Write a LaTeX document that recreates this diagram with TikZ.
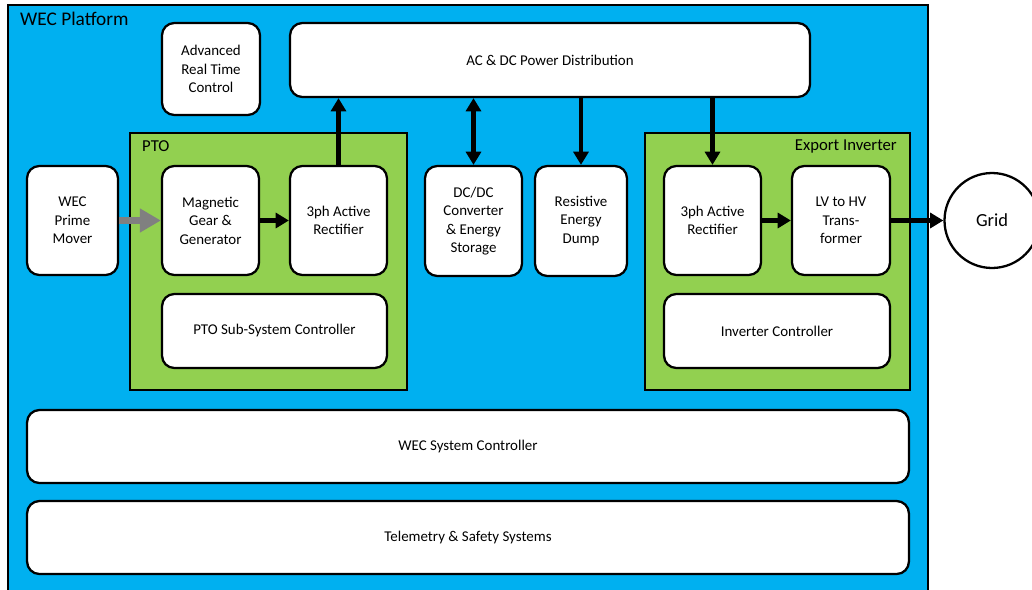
\documentclass[tikz,border=0pt]{standalone}
\usepackage{fontspec}
\setmainfont{Carlito}
\usetikzlibrary{arrows.meta}
\definecolor{PlatformClr}{HTML}{00B0F0}
\definecolor{SubSysClr}{HTML}{92D050}
\definecolor{ShaftClr}{HTML}{808080}

\begin{document}
\begin{tikzpicture}[x=0.02cm,y=-0.02cm,
  blk/.style={draw,line width=1.3pt,fill=white,rounded corners=7pt,align=center,
    inner sep=0pt,font=\fontsize{8.5}{10.5}\selectfont},
  grp/.style={draw,line width=1.3pt},
  pwr/.style={line width=2.3pt,-{Triangle[length=7.5pt,width=8.5pt]}},
  mech/.style={line width=3.6pt,color=ShaftClr,-{Triangle[length=12pt,width=13pt]}}]
\useasboundingbox (0,0) rectangle (1032,589);

% platform and sub-system frames
\draw[grp,fill=PlatformClr] (8,600) -- (8,5) -- (928,5) -- (928,600);
\node[anchor=west,font=\fontsize{11}{13}\selectfont] (plat) at (14,19) {WEC Platform};
\draw[grp,fill=SubSysClr] (130,133) rectangle (407,390);
\node[anchor=west,font=\fontsize{9.5}{11}\selectfont] (pto) at (136,146) {PTO};
\draw[grp,fill=SubSysClr] (645,133) rectangle (910,390);
\node[anchor=east,font=\fontsize{9.5}{11}\selectfont] (expinv) at (903,146) {Export Inverter};

% blocks
\node[blk,minimum width=1.96cm,minimum height=1.84cm] (artc) at (211,69) {Advanced\\Real Time\\Control};
\node[blk,minimum width=10.4cm,minimum height=1.48cm] (acdc) at (550,60) {AC \& DC Power Distribution};
\node[blk,minimum width=1.82cm,minimum height=2.18cm] (mover) at (72.5,220.5) {WEC\\Prime\\Mover};
\node[blk,minimum width=1.94cm,minimum height=2.18cm] (gen) at (210.5,220.5) {Magnetic\\Gear \&\\Generator};
\node[blk,minimum width=1.94cm,minimum height=2.18cm] (rectA) at (338.5,220.5) {3ph Active\\Rectifier};
\node[blk,minimum width=4.5cm,minimum height=1.48cm] (ptoctl) at (274.5,331) {PTO Sub-System Controller};
\node[blk,minimum width=1.94cm,minimum height=2.2cm] (dcdc) at (473.5,221) {DC/DC\\Converter\\\& Energy\\Storage};
\node[blk,minimum width=1.84cm,minimum height=2.2cm] (dump) at (581,221) {Resistive\\Energy\\Dump};
\node[blk,minimum width=1.94cm,minimum height=2.18cm] (rectB) at (712.5,220.5) {3ph Active\\Rectifier};
\node[blk,minimum width=1.96cm,minimum height=2.18cm] (xfmr) at (841,220.5) {LV to HV\\Trans-\\former};
\node[blk,minimum width=4.52cm,minimum height=1.48cm] (invctl) at (777,331) {Inverter Controller};
\node[blk,minimum width=17.64cm,minimum height=1.46cm] (sysctl) at (468,446.5) {WEC System Controller};
\node[blk,minimum width=17.64cm,minimum height=1.46cm] (telem) at (468,537.5) {Telemetry \& Safety Systems};
\node[draw,circle,line width=1.3pt,fill=white,minimum size=1.9cm,inner sep=0pt,
  font=\fontsize{10.5}{12}\selectfont] (grid) at (992,220.5) {Grid};

% power and drive paths
\draw[mech] (mover.east) -- (gen.west);
\draw[pwr] (gen.east) -- (rectA.west);
\draw[pwr] (rectA.north) -- (rectA.north |- acdc.south);
\draw[pwr,{Triangle[length=7.5pt,width=8.5pt]}-{Triangle[length=7.5pt,width=8.5pt]}]
  (dcdc.north |- acdc.south) -- (dcdc.north);
\draw[pwr] (dump.north |- acdc.south) -- (dump.north);
\draw[pwr] (rectB.north |- acdc.south) -- (rectB.north);
\draw[pwr] (rectB.east) -- (xfmr.west);
\draw[pwr] (xfmr.east) -- (grid.west);

\end{tikzpicture}
\end{document}
